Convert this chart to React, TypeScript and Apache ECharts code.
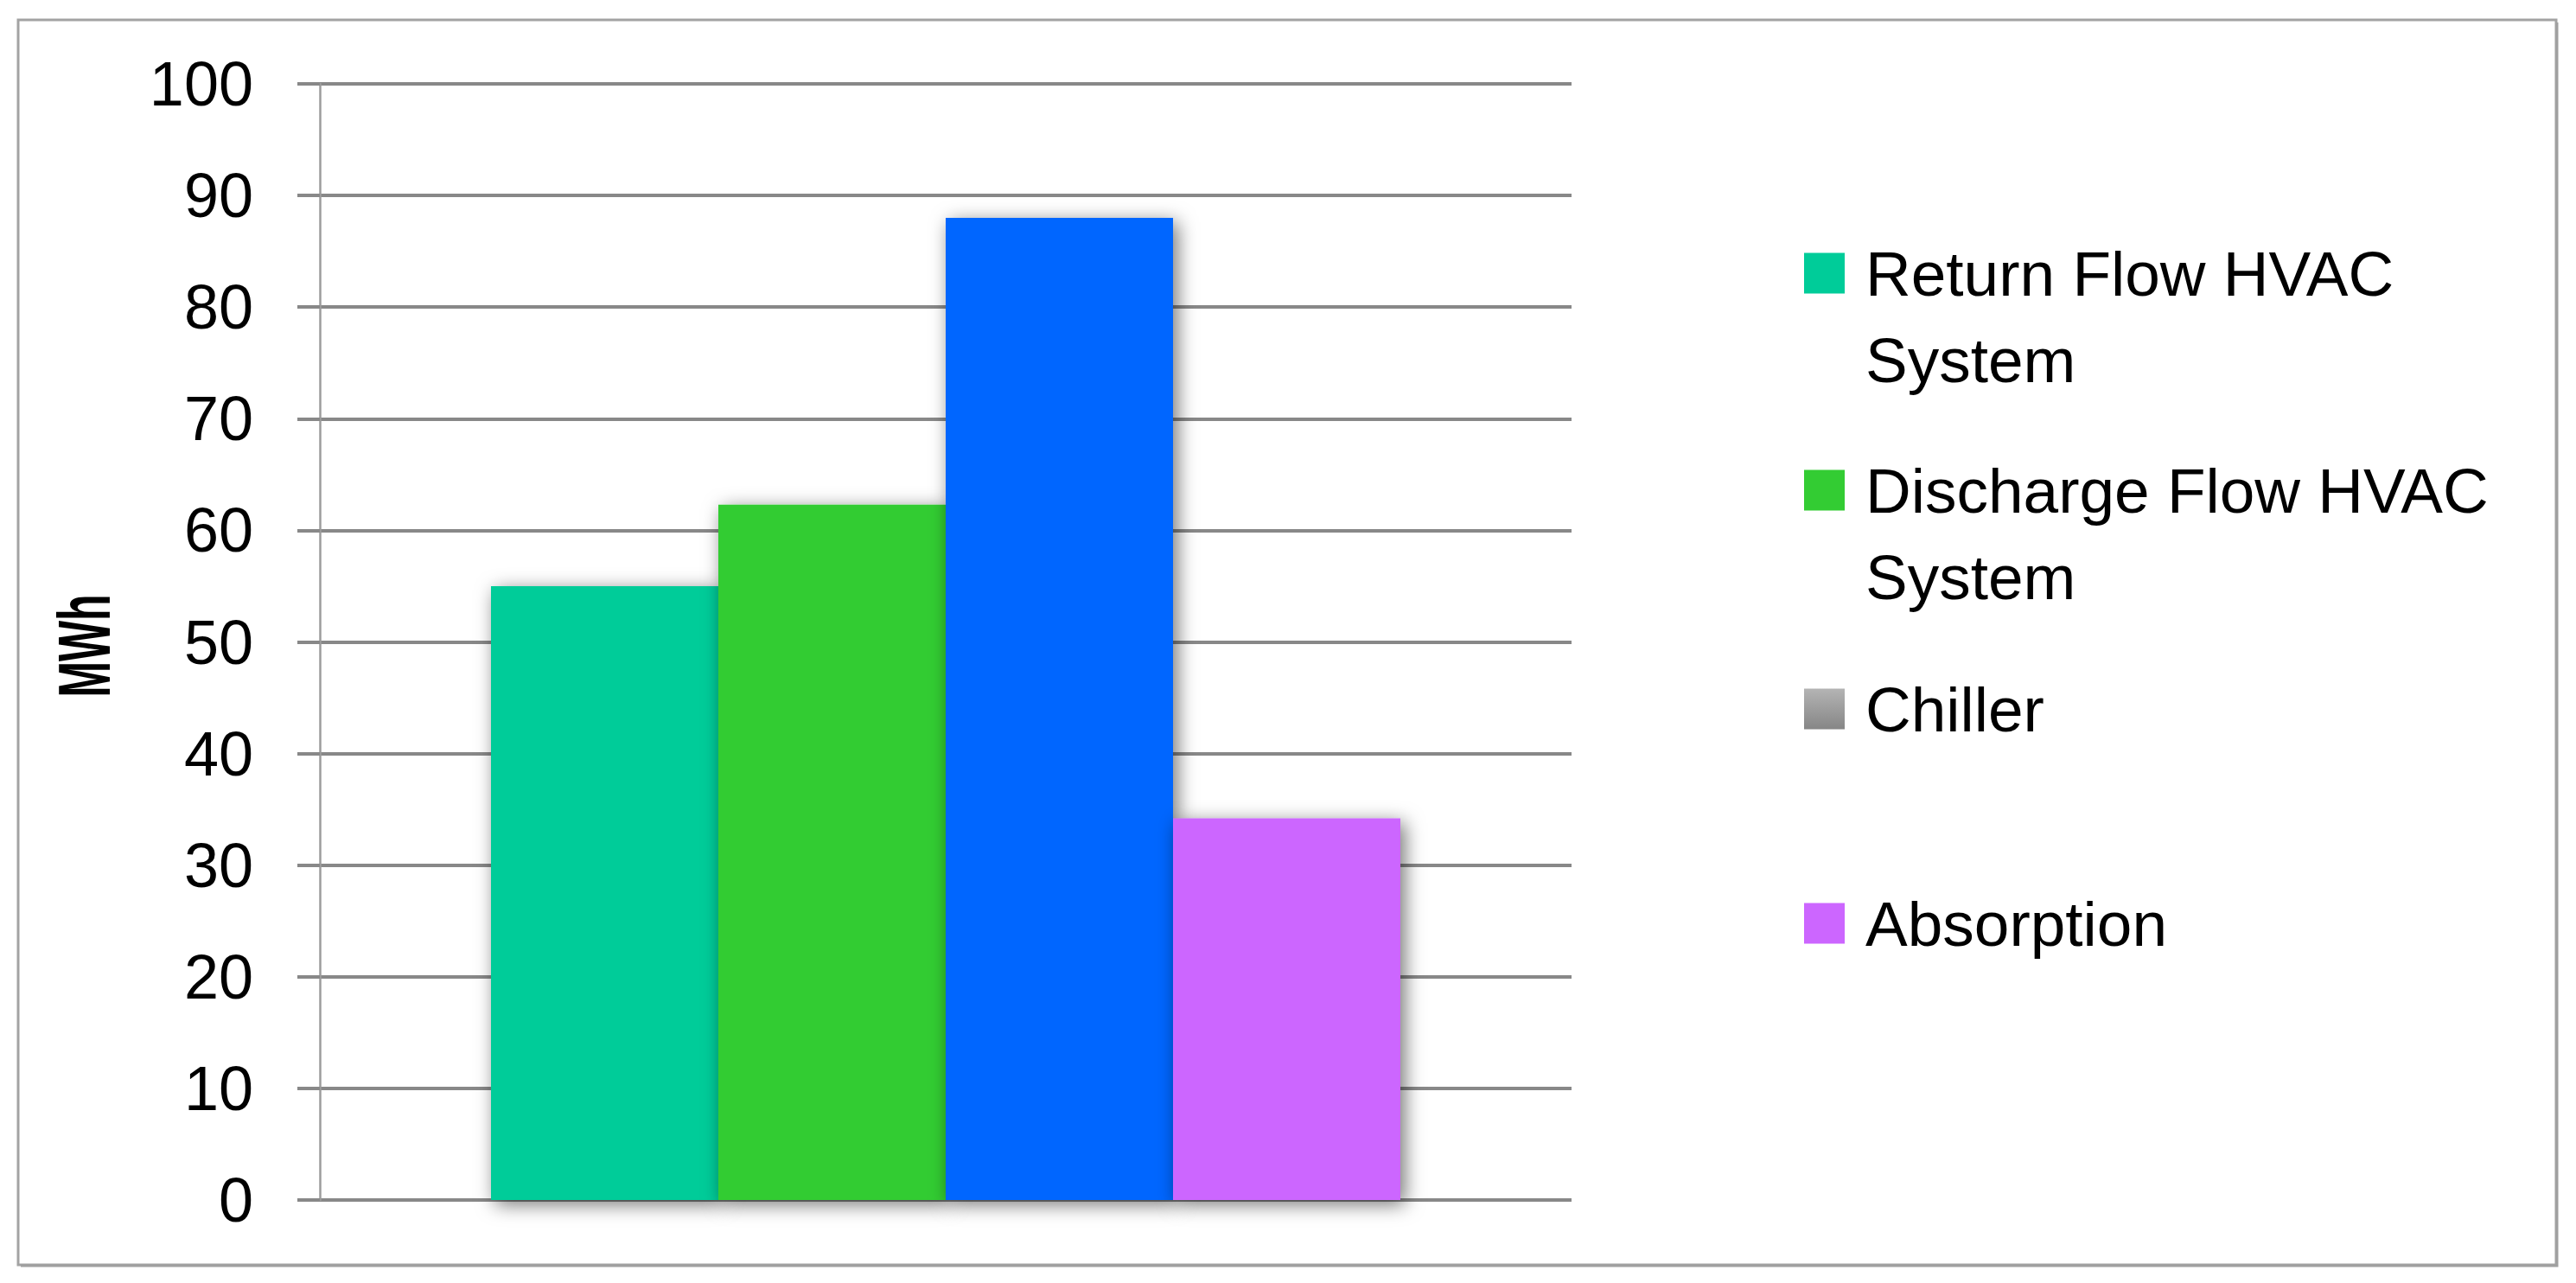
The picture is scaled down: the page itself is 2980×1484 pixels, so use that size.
import React, { useEffect, useRef } from "react";
import * as echarts from "echarts";

const categories = [""];
const seriesNames = [
  "Return Flow HVAC System",
  "Discharge Flow HVAC System",
  "Chiller",
  "Absorption",
];
const legendLabels = [
  "Return Flow HVAC\nSystem",
  "Discharge Flow HVAC\nSystem",
  "Chiller",
  "Absorption",
];
const seriesValues = [55.0, 62.3, 88.0, 34.2];
const barColors = ["#00CC99", "#33CC33", "#0066FF", "#CC66FF"];
const yMin = 0;
const yMax = 100;
const yInterval = 10;
const yAxisTitle = "MWh";

const FONT = '"Liberation Sans", Arial, sans-serif';

export default function App() {
  const ref = useRef<HTMLDivElement>(null);

  useEffect(() => {
    if (!ref.current) return;
    const chart = echarts.init(ref.current, undefined, { renderer: "svg" });

    const legendIconCenters = [316, 567, 820, 1068];
    const lineH = 100;

    const legends = seriesNames.map((name, i) => {
      const twoLine = legendLabels[i].indexOf("\n") >= 0;
      // a leading blank line keeps the first text line level with the icon
      const label = twoLine ? "\n" + legendLabels[i] : legendLabels[i];
      const boxHalf = twoLine ? 1.5 * lineH : 0.5 * lineH;
      const item: any = { name };
      if (name === "Chiller") {
        item.itemStyle = {
          color: new echarts.graphic.LinearGradient(0, 0, 0, 1, [
            { offset: 0, color: "#b4b4b4" },
            { offset: 1, color: "#868686" },
          ]),
        };
      }
      return {
        show: true,
        orient: "vertical",
        left: 2087,
        top: legendIconCenters[i] - boxHalf,
        padding: 0,
        itemWidth: 47,
        itemHeight: 47,
        icon: "rect",
        selectedMode: false,
        data: [item],
        formatter: () => label,
        textStyle: {
          fontFamily: FONT,
          fontSize: 73,
          lineHeight: lineH,
          color: "#000",
          padding: [0, 0, 0, 19],
        },
      };
    });

    const option: any = {
      animation: false,
      backgroundColor: "#ffffff",
      grid: { left: 370, right: 1162, top: 97, bottom: 96, containLabel: false },
      legend: legends,
      xAxis: {
        type: "category",
        data: categories,
        axisLine: { show: false },
        axisTick: { show: false },
        axisLabel: { show: false },
        splitLine: { show: false },
      },
      yAxis: {
        type: "value",
        min: yMin,
        max: yMax,
        interval: yInterval,
        axisLine: { show: true, lineStyle: { color: "#9c9c9c", width: 2.5 } },
        axisTick: { show: true, length: 26, lineStyle: { color: "#888888", width: 4 } },
        axisLabel: { fontFamily: FONT, fontSize: 72, color: "#000", margin: 77 },
        splitLine: { show: true, lineStyle: { color: "#888888", width: 4 } },
      },
      series: seriesNames.map((name, i) => ({
        type: "bar",
        name,
        data: [seriesValues[i]],
        barWidth: 263,
        barGap: "0%",
        itemStyle: {
          color: barColors[i],
          shadowBlur: 22,
          shadowColor: "rgba(0,0,0,0.55)",
          shadowOffsetX: 5,
          shadowOffsetY: 5,
        },
      })),
      graphic: [
        {
          type: "rect",
          z: -10,
          shape: { x: 21, y: 23, width: 2936, height: 1440 },
          style: { fill: "none", stroke: "#a3a3a3", lineWidth: 3 },
        },
        {
          type: "polyline",
          z: -10,
          shape: { points: [[24, 1464], [2958, 1464], [2958, 26]] },
          style: { fill: "none", stroke: "#a0a0a0", lineWidth: 3 },
        },
        {
          type: "text",
          x: 97,
          y: 747,
          rotation: Math.PI / 2,
          scaleX: 0.58,
          style: {
            text: yAxisTitle,
            font: 'bold 86px "Liberation Sans", Arial, sans-serif',
            fill: "#000",
            align: "center",
            verticalAlign: "middle",
          },
        },
      ],
    };

    chart.setOption(option);
    return () => chart.dispose();
  }, []);

  return (
    <div
      ref={ref}
      style={{ position: "absolute", left: 0, top: 0, width: 2980, height: 1484, background: "#fff" }}
    />
  );
}
